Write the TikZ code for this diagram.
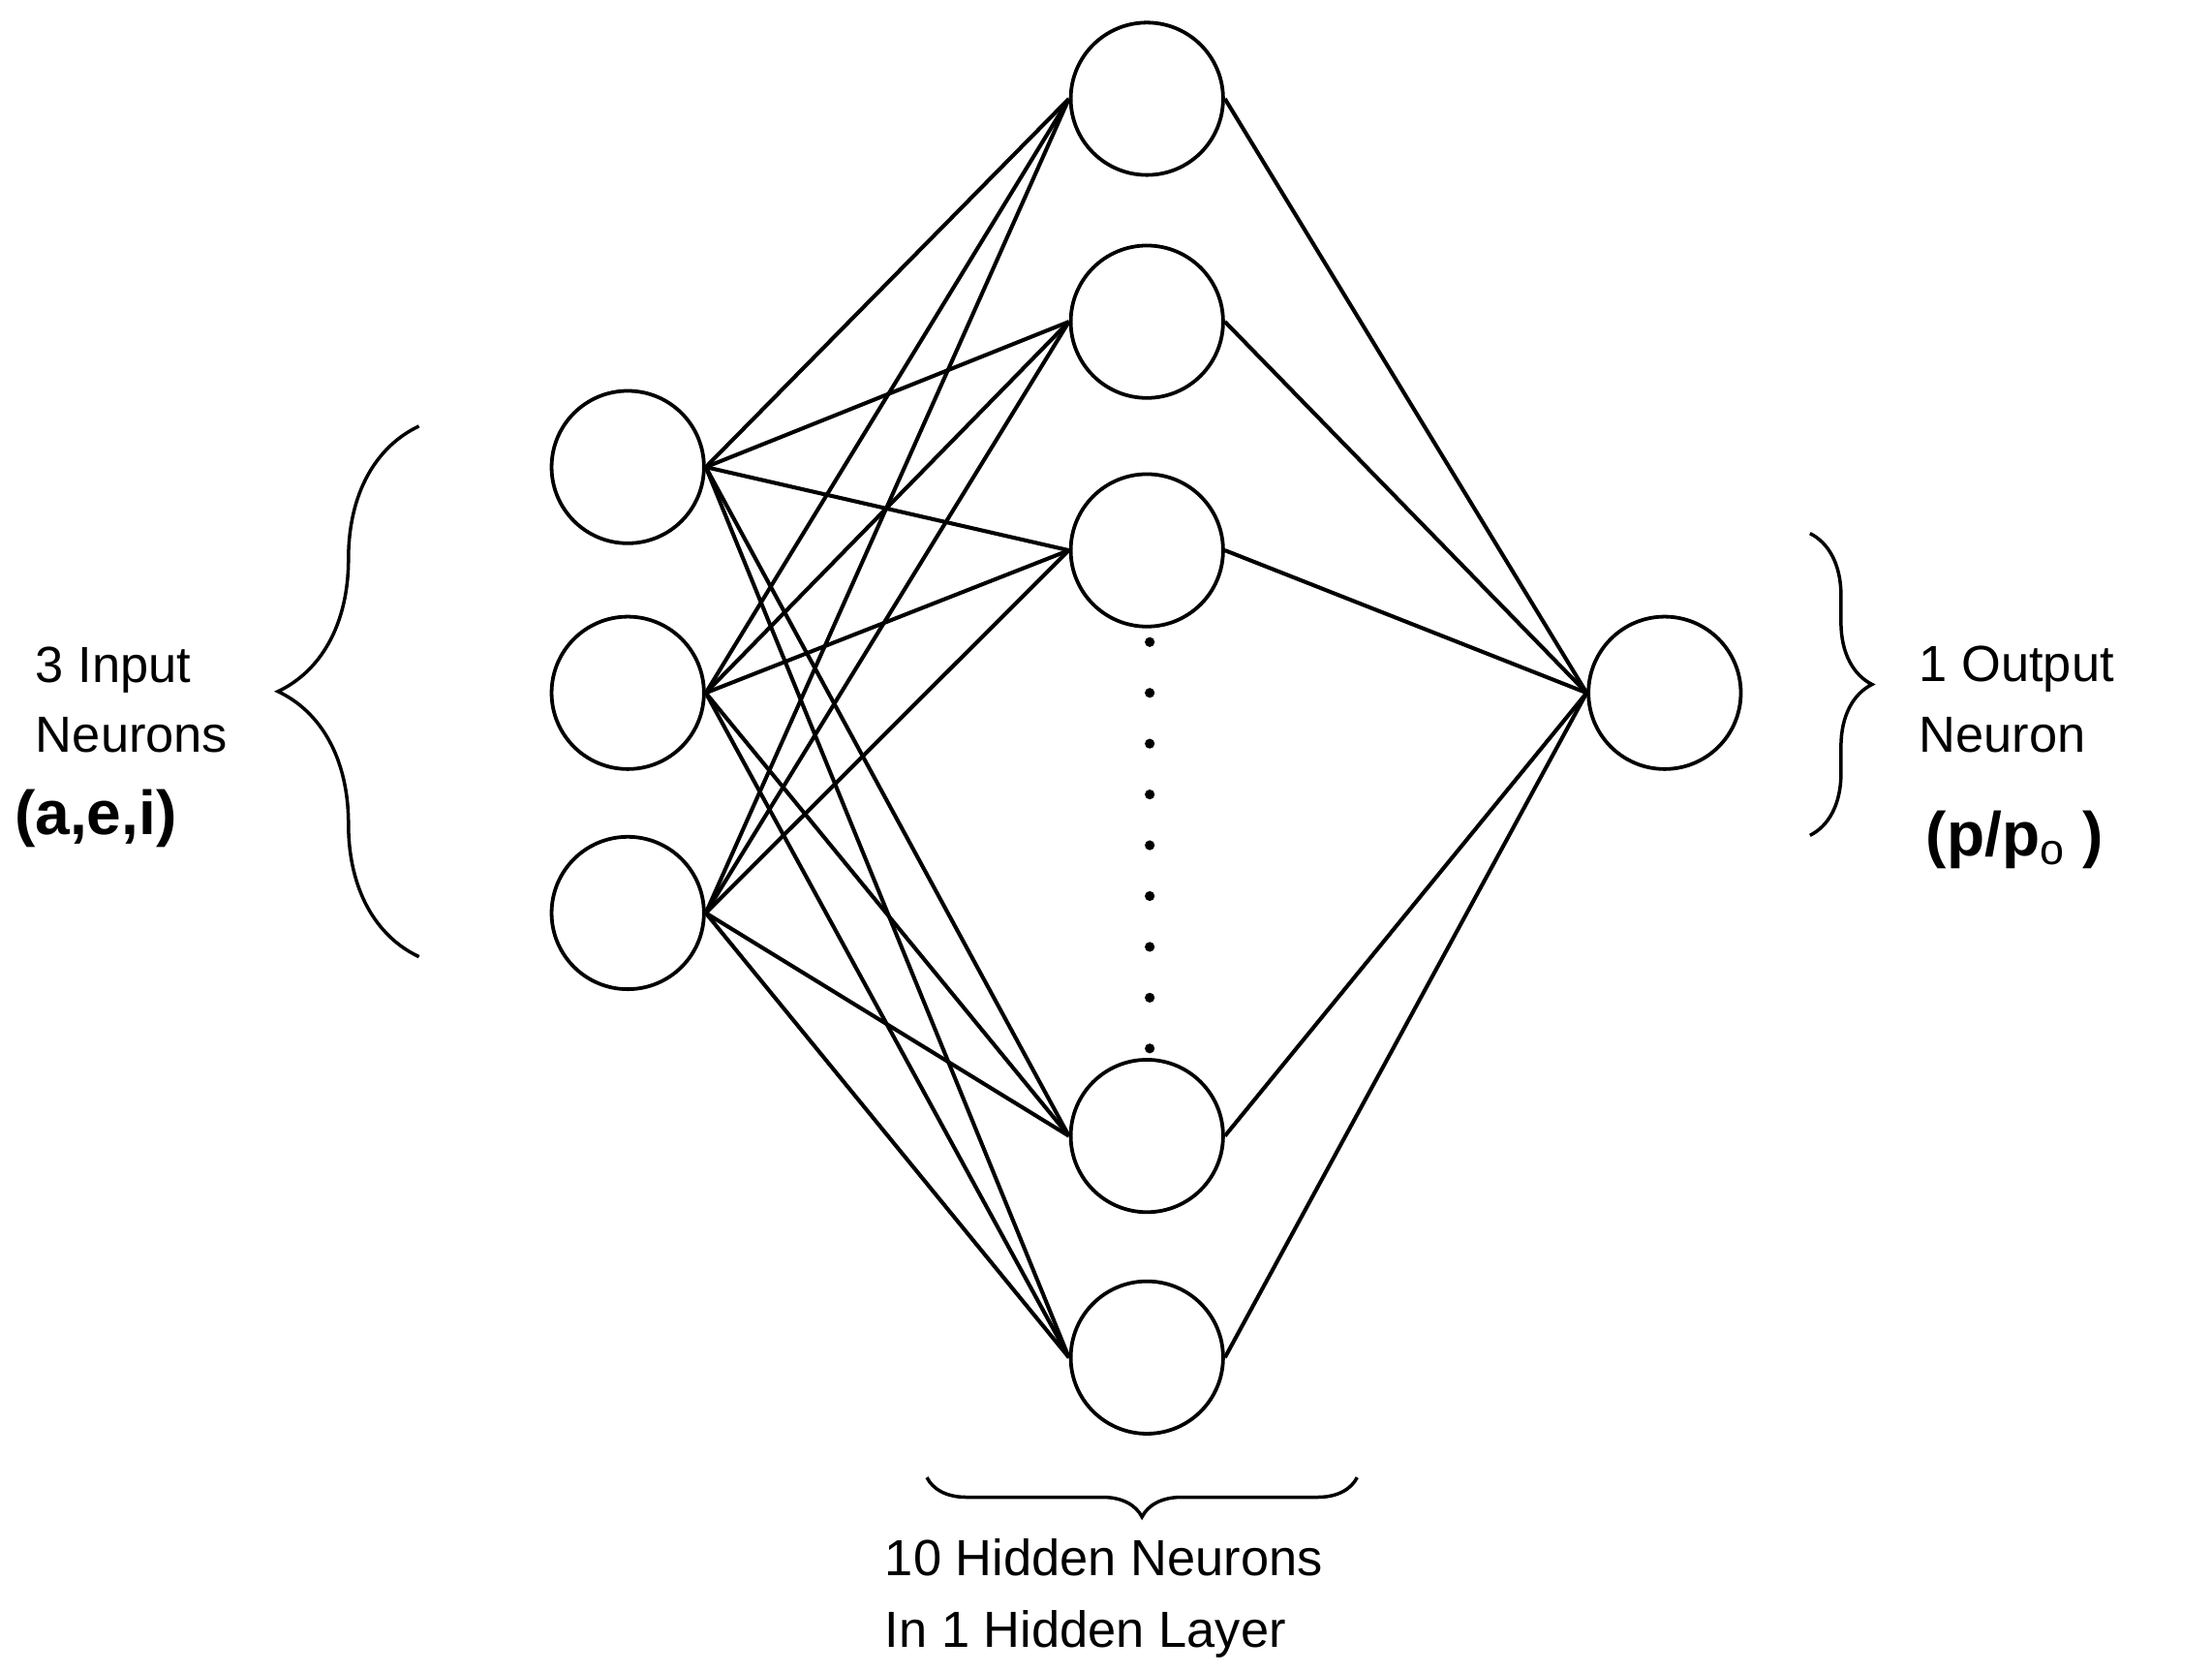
\documentclass[tikz,border=0pt]{standalone}
\usepackage{fontspec}
\setmainfont{Liberation Sans}
\usetikzlibrary{decorations.pathreplacing}
\begin{document}
\begin{tikzpicture}[x=0.5pt,y=-0.5pt,
  neuron/.style={circle,draw,line width=1.3pt,minimum size=54pt,inner sep=0pt},
  conn/.style={line width=1.4pt},
  br/.style={line width=1.2pt,decorate},
  lbl/.style={font=\fontsize{18}{22}\selectfont,anchor=west,inner sep=0pt},
  big/.style={font=\fontsize{22}{26}\selectfont\bfseries,anchor=west,inner sep=0pt}]
\useasboundingbox (0,0) rectangle (1568,1185);
\foreach \n/\y in {1/331,2/491,3/647} \node[neuron] (i\n) at (445,\y) {};
\foreach \n/\y in {1/70,2/228,3/390,4/805,5/962} \node[neuron] (h\n) at (813,\y) {};
\node[neuron] (o) at (1180,491) {};
\foreach \i in {1,2,3} \foreach \h in {1,...,5} \draw[conn] (i\i.east) -- (h\h.west);
\foreach \h in {1,...,5} \draw[conn] (h\h.east) -- (o.west);
\foreach \k in {0,...,8} \fill (815,{455+36*\k}) coordinate (d\k) circle (3.5);
\coordinate (lb1) at (297,678); \coordinate (lb2) at (297,302);
\draw[br,decoration={brace,amplitude=50pt}] (lb1) -- (lb2);
\coordinate (rb1) at (1283,378); \coordinate (rb2) at (1283,592);
\draw[br,decoration={brace,amplitude=22pt}] (rb1) -- (rb2);
\coordinate (bb1) at (962,1047); \coordinate (bb2) at (657,1047);
\draw[br,decoration={brace,amplitude=14pt}] (bb1) -- (bb2);
\node[lbl] (t1) at (25,475) {3 Input};
\node[lbl] (t2) at (25,521) {Neurons};
\node[big] (t3) at (10,580) {(a,e,i)};
\node[lbl] (t4) at (1360,474) {1 Output};
\node[lbl] (t5) at (1360,521) {Neuron};
\node[big] (t6) at (1365,595) {(p/p$_{\mathrm{o}}$ )};
\node[lbl] (t7) at (627,1104) {10 Hidden Neurons};
\node[lbl] (t8) at (627,1158) {In 1 Hidden Layer};
\end{tikzpicture}
\end{document}
